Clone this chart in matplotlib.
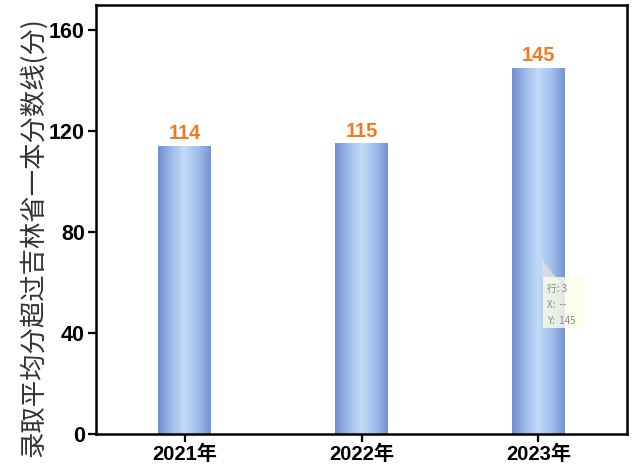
import numpy as np
import matplotlib
matplotlib.use("Agg")
import matplotlib.pyplot as plt
from matplotlib.colors import LinearSegmentedColormap
from matplotlib.patches import Polygon, FancyBboxPatch

plt.rcParams["font.family"] = ["Liberation Sans", "Noto Sans CJK SC", "DejaVu Sans"]

years = ["2021年", "2022年", "2023年"]
scores = [114, 115, 145]

bar_w = 0.295
grad = LinearSegmentedColormap.from_list(
    "bar", ["#6f8fcf", "#9dbbea", "#c3dbf8", "#a2c0ec", "#7493d1"])

fig = plt.figure(figsize=(6.33, 4.71), dpi=100)
ax = fig.add_axes([0.1517, 0.0786, 0.8388, 0.9108])

x = np.arange(len(years))
bars = ax.bar(x, scores, width=bar_w, color="none", edgecolor="none")
g = np.linspace(0, 1, 256).reshape(1, -1)
for b in bars:
    x0, w, h = b.get_x(), b.get_width(), b.get_height()
    ax.imshow(g, cmap=grad, extent=[x0, x0 + w, 0, h], aspect="auto",
              interpolation="bicubic", zorder=2)

for xi, v in zip(x, scores):
    ax.text(xi, v + 1.2, str(v), ha="center", va="bottom", color="#f07a22",
            fontsize=14.5, fontweight="bold")

ax.set_xlim(-0.5, 2.5)
ax.set_ylim(0, 170)
ax.set_xticks(x)
ax.set_xticklabels(years, fontsize=14.5, fontweight="bold")
ax.set_yticks([0, 40, 80, 120, 160])
ax.tick_params(axis="y", labelsize=15.5, width=1.6, length=6, direction="out", pad=2)
ax.tick_params(axis="x", width=1.6, length=6, direction="out", pad=2)
for lab in ax.get_yticklabels():
    lab.set_fontweight("bold")
for s in ax.spines.values():
    s.set_linewidth(1.8)
    s.set_color("black")

ax.set_ylabel("录取平均分超过吉林省一本分数线(分)", fontsize=19,
              family=["Noto Sans CJK SC", "DejaVu Sans"], color="#333333")
ax.yaxis.set_label_coords(-0.092, 0.46)

# tooltip overlay seen in the screenshot
tip = Polygon([[0.838, 0.410], [0.842, 0.352], [0.874, 0.352]], closed=True,
              transform=ax.transAxes, facecolor="#dde4e0", edgecolor="none",
              alpha=0.75, zorder=5)
ax.add_patch(tip)
box = FancyBboxPatch((0.842, 0.247), 0.079, 0.119, boxstyle="square,pad=0",
                     transform=ax.transAxes, facecolor="#fdfde8",
                     edgecolor="none", alpha=0.8, zorder=5)
ax.add_patch(box)
for i, t in enumerate(["行: 3", "X:  --", "Y:  145"]):
    ax.text(0.849, 0.338 - i * 0.0375, t, transform=ax.transAxes, fontsize=7,
            color="#8a8a8a", va="center", zorder=6,
            family=["Noto Sans CJK SC", "DejaVu Sans"])

fig.savefig("out.png", dpi=100)
